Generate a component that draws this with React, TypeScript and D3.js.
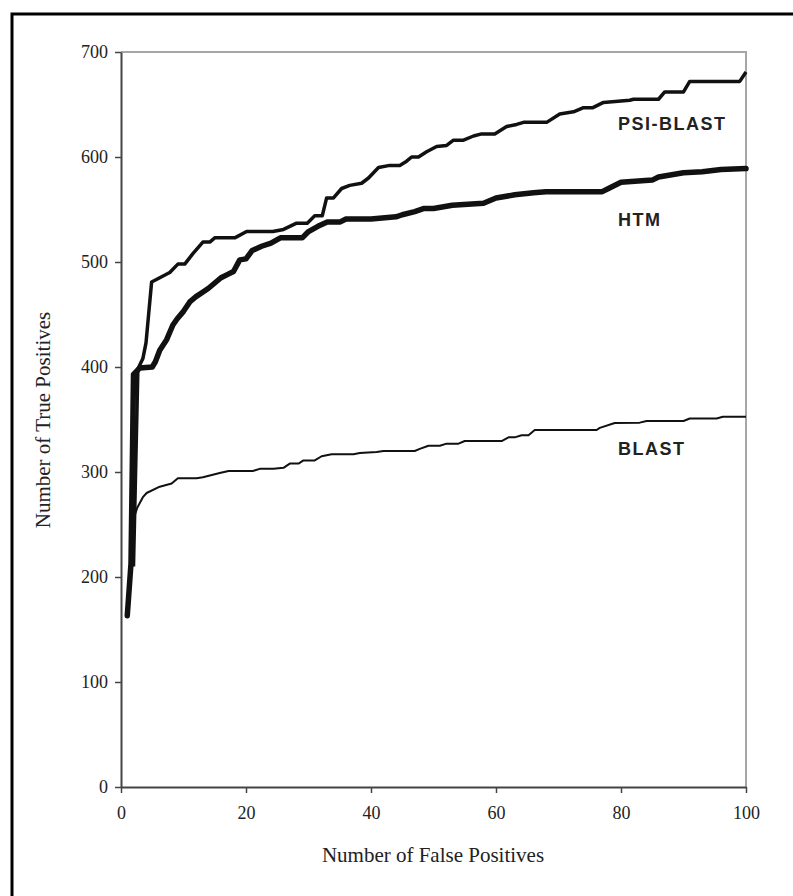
import * as d3 from "d3";
import React, { useEffect, useRef } from "react";

// false positives (x) / true positives (y) for each method
const htmFP = [1, 1.6, 2, 3, 5, 5.5, 6.2, 7.3, 8.3, 9, 10, 11, 12, 13, 14, 15, 16, 17, 18, 19, 20, 21, 22.5, 24, 25.5, 29, 30, 31.5, 33, 35, 36, 40, 44, 45, 47, 48.5, 50, 53, 58, 60, 63, 66, 68, 77, 78, 80, 85, 86, 90, 93, 96, 100];
const htmTP = [163, 213, 393, 399, 400, 405, 416, 426, 440, 446, 453, 462, 467, 471, 475, 480, 485, 488, 491, 502, 503, 511, 515, 518, 523, 523, 529, 534, 538, 538, 541, 541, 543, 545, 548, 551, 551, 554, 556, 561, 564, 566, 567, 567, 570, 576, 578, 581, 585, 586, 588, 589];

const psiFP = [2, 2.7, 3.5, 4, 4.9, 6.2, 7.8, 9.1, 10.2, 11.5, 13.1, 14.2, 15, 18.2, 20.1, 24.3, 26, 28.1, 29.8, 31, 32.2, 32.9, 34, 35.3, 36.6, 38.5, 39.6, 41.2, 43, 44.6, 45.7, 46.5, 47.6, 48.9, 50.5, 52.1, 53.2, 54.8, 56.4, 57.7, 59.8, 61.7, 63.3, 64.4, 68.1, 70.2, 72.4, 74, 75.5, 77.2, 81.4, 82, 86, 87, 90, 91, 99, 100];
const psiTP = [210, 398, 408, 423, 481, 485, 490, 498, 498, 508, 519, 519, 523, 523, 529, 529, 531, 537, 537, 544, 544, 561, 561, 570, 573, 575, 580, 590, 592, 592, 596, 600, 600, 605, 610, 611, 616, 616, 620, 622, 622, 629, 631, 633, 633, 641, 643, 647, 647, 652, 654, 655, 655, 662, 662, 672, 672, 681];

const blastFP = [2, 2.6, 3.5, 4.1, 6.2, 8.1, 9.1, 12.1, 13.1, 15.8, 17.2, 21.1, 22.2, 24.4, 26, 27, 28.4, 29.2, 31, 32.1, 33.7, 37.2, 38.2, 40.9, 42, 47, 47.8, 49.2, 51, 52.1, 54, 55, 60.9, 62, 63, 64.1, 65.2, 66.2, 76.1, 76.6, 79, 83, 84.1, 90, 91, 95.3, 96.3, 100];
const blastTP = [255, 266, 276, 280, 286, 289, 294, 294, 295, 299, 301, 301, 303, 303, 304, 308, 308, 311, 311, 315, 317, 317, 318, 319, 320, 320, 322, 325, 325, 327, 327, 329.5, 329.5, 333, 333, 335, 335, 340, 340, 342, 346.6, 347, 348.6, 348.6, 351, 351, 352.7, 352.7];

const xTicks = [0, 20, 40, 60, 80, 100];
const yTicks = [0, 100, 200, 300, 400, 500, 600, 700];

const W = 793;
const H = 896;
const left = 121;
const right = 746;
const top = 52;
const bottom = 787;

const serif = "'Liberation Serif', 'Times New Roman', serif";
const sans = "'Liberation Sans', Arial, sans-serif";

const x = d3.scaleLinear().domain([0, 100]).range([left, right]);
const y = d3.scaleLinear().domain([0, 700]).range([bottom, top]);

const line = d3
  .line<[number, number]>()
  .x((d) => x(d[0]))
  .y((d) => y(d[1]));

const zip = (a: number[], b: number[]) => a.map((v, i) => [v, b[i]] as [number, number]);

const App = () => {
  const xRef = useRef<SVGGElement>(null);
  const yRef = useRef<SVGGElement>(null);

  useEffect(() => {
    const xAxis = d3.axisBottom(x).tickValues(xTicks).tickSize(6).tickSizeOuter(0).tickPadding(13);
    const gx = d3.select(xRef.current!).call(xAxis);
    gx.select(".domain").attr("stroke", "#444").attr("stroke-width", 2);
    gx.selectAll(".tick line").attr("stroke", "#444").attr("stroke-width", 1.5);
    gx.selectAll(".tick text").attr("font-family", serif).attr("font-size", 18).attr("fill", "#222");

    const yAxis = d3.axisLeft(y).tickValues(yTicks).tickSize(6).tickSizeOuter(0).tickPadding(7);
    const gy = d3.select(yRef.current!).call(yAxis);
    gy.select(".domain").attr("stroke", "#444").attr("stroke-width", 2);
    gy.selectAll(".tick line").attr("stroke", "#444").attr("stroke-width", 1.5);
    gy.selectAll(".tick text").attr("font-family", serif).attr("font-size", 18).attr("fill", "#222");
  }, []);

  return (
    <svg width={W} height={H} style={{ position: "absolute", left: 0, top: 0, background: "#fff" }}>
      <path d={`M12,${H} L12,14 L${W},14`} fill="none" stroke="#000" strokeWidth={3} />

      {/* light frame on top and right */}
      <path d={`M${left},${top} L${right},${top} L${right},${bottom}`} fill="none" stroke="#a6a6a6" strokeWidth={2} />

      <g ref={xRef} transform={`translate(0,${bottom})`} />
      <g ref={yRef} transform={`translate(${left},0)`} />

      <path d={line(zip(blastFP, blastTP)) || ""} fill="none" stroke="#111" strokeWidth={2} strokeLinejoin="round" />
      <path d={line(zip(psiFP, psiTP)) || ""} fill="none" stroke="#111" strokeWidth={3.5} strokeLinejoin="round" />
      <path d={line(zip(htmFP, htmTP)) || ""} fill="none" stroke="#111" strokeWidth={5.5} strokeLinejoin="round" strokeLinecap="round" />

      <g fontFamily={sans} fontWeight="bold" fontSize={18} fill="#222" letterSpacing={1.5}>
        <text x={618} y={130}>PSI-BLAST</text>
        <text x={618} y={226}>HTM</text>
        <text x={618} y={455}>BLAST</text>
      </g>

      <text x={433} y={862} textAnchor="middle" fontFamily={serif} fontSize={21} fill="#222">
        Number of False Positives
      </text>
      <text
        transform={`translate(50,420) rotate(-90)`}
        textAnchor="middle"
        fontFamily={serif}
        fontSize={21}
        fill="#222"
      >
        Number of True Positives
      </text>
    </svg>
  );
};

export default App;
